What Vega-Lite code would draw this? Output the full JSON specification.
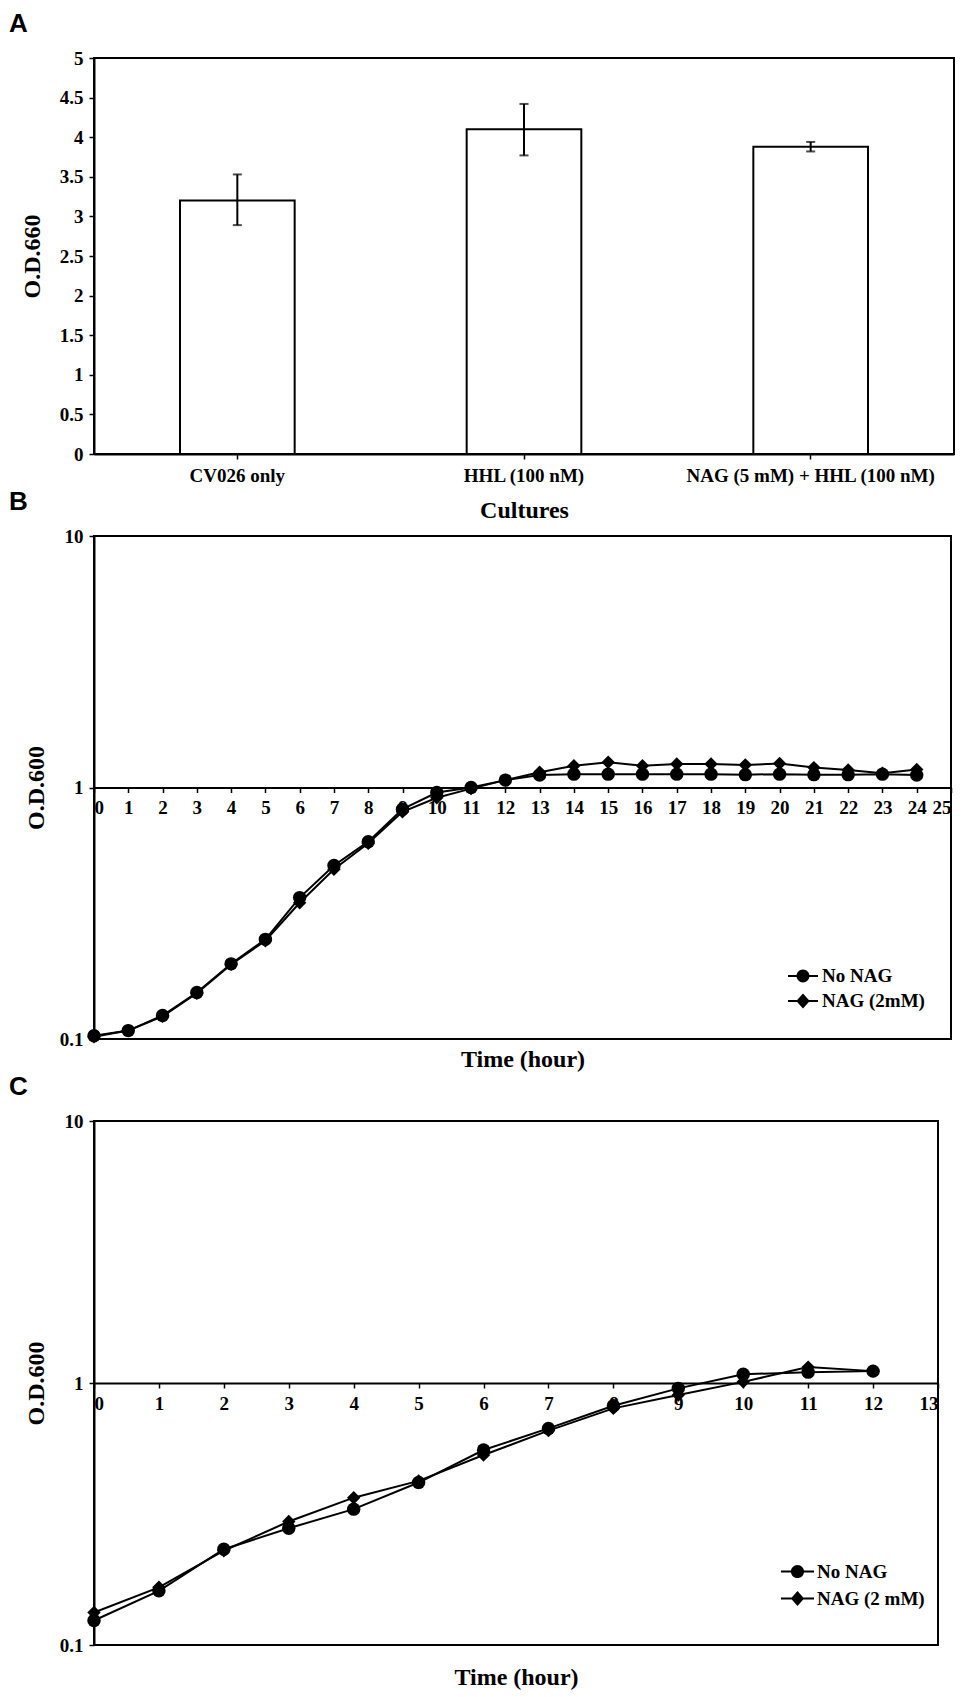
{
  "$schema": "https://vega.github.io/schema/vega-lite/v6.json",
  "padding": {"left": 8, "top": 10, "right": 5, "bottom": 0},
  "background": "white",
  "bounds": "flush",
  "spacing": 82,
  "datasets": {
    "bars": [
      {"culture": "CV026 only", "od": 3.2, "lo": 2.89, "hi": 3.53},
      {"culture": "HHL (100 nM)", "od": 4.1, "lo": 3.77, "hi": 4.42},
      {"culture": "NAG (5 mM) + HHL (100 nM)", "od": 3.88, "lo": 3.82, "hi": 3.94}
    ],
    "growthB": [
      {"t": 0, "series": "No NAG", "od": 0.103}, {"t": 0, "series": "NAG (2mM)", "od": 0.102},
      {"t": 1, "series": "No NAG", "od": 0.108}, {"t": 1, "series": "NAG (2mM)", "od": 0.108},
      {"t": 2, "series": "No NAG", "od": 0.124}, {"t": 2, "series": "NAG (2mM)", "od": 0.123},
      {"t": 3, "series": "No NAG", "od": 0.153}, {"t": 3, "series": "NAG (2mM)", "od": 0.152},
      {"t": 4, "series": "No NAG", "od": 0.199}, {"t": 4, "series": "NAG (2mM)", "od": 0.198},
      {"t": 5, "series": "No NAG", "od": 0.249}, {"t": 5, "series": "NAG (2mM)", "od": 0.246},
      {"t": 6, "series": "No NAG", "od": 0.365}, {"t": 6, "series": "NAG (2mM)", "od": 0.348},
      {"t": 7, "series": "No NAG", "od": 0.49}, {"t": 7, "series": "NAG (2mM)", "od": 0.473},
      {"t": 8, "series": "No NAG", "od": 0.609}, {"t": 8, "series": "NAG (2mM)", "od": 0.6},
      {"t": 9, "series": "No NAG", "od": 0.82}, {"t": 9, "series": "NAG (2mM)", "od": 0.8},
      {"t": 10, "series": "No NAG", "od": 0.955}, {"t": 10, "series": "NAG (2mM)", "od": 0.91},
      {"t": 11, "series": "No NAG", "od": 1.0}, {"t": 11, "series": "NAG (2mM)", "od": 0.99},
      {"t": 12, "series": "No NAG", "od": 1.07}, {"t": 12, "series": "NAG (2mM)", "od": 1.07},
      {"t": 13, "series": "No NAG", "od": 1.12}, {"t": 13, "series": "NAG (2mM)", "od": 1.15},
      {"t": 14, "series": "No NAG", "od": 1.13}, {"t": 14, "series": "NAG (2mM)", "od": 1.22},
      {"t": 15, "series": "No NAG", "od": 1.13}, {"t": 15, "series": "NAG (2mM)", "od": 1.26},
      {"t": 16, "series": "No NAG", "od": 1.13}, {"t": 16, "series": "NAG (2mM)", "od": 1.22},
      {"t": 17, "series": "No NAG", "od": 1.13}, {"t": 17, "series": "NAG (2mM)", "od": 1.24},
      {"t": 18, "series": "No NAG", "od": 1.13}, {"t": 18, "series": "NAG (2mM)", "od": 1.24},
      {"t": 19, "series": "No NAG", "od": 1.125}, {"t": 19, "series": "NAG (2mM)", "od": 1.23},
      {"t": 20, "series": "No NAG", "od": 1.13}, {"t": 20, "series": "NAG (2mM)", "od": 1.245},
      {"t": 21, "series": "No NAG", "od": 1.125}, {"t": 21, "series": "NAG (2mM)", "od": 1.2},
      {"t": 22, "series": "No NAG", "od": 1.125}, {"t": 22, "series": "NAG (2mM)", "od": 1.175},
      {"t": 23, "series": "No NAG", "od": 1.13}, {"t": 23, "series": "NAG (2mM)", "od": 1.14},
      {"t": 24, "series": "No NAG", "od": 1.12}, {"t": 24, "series": "NAG (2mM)", "od": 1.18}
    ],
    "growthC": [
      {"t": 0, "series": "No NAG", "od": 0.124}, {"t": 0, "series": "NAG (2 mM)", "od": 0.133},
      {"t": 1, "series": "No NAG", "od": 0.161}, {"t": 1, "series": "NAG (2 mM)", "od": 0.166},
      {"t": 2, "series": "No NAG", "od": 0.232}, {"t": 2, "series": "NAG (2 mM)", "od": 0.229},
      {"t": 3, "series": "No NAG", "od": 0.279}, {"t": 3, "series": "NAG (2 mM)", "od": 0.296},
      {"t": 4, "series": "No NAG", "od": 0.33}, {"t": 4, "series": "NAG (2 mM)", "od": 0.365},
      {"t": 5, "series": "No NAG", "od": 0.417}, {"t": 5, "series": "NAG (2 mM)", "od": 0.423},
      {"t": 6, "series": "No NAG", "od": 0.555}, {"t": 6, "series": "NAG (2 mM)", "od": 0.531},
      {"t": 7, "series": "No NAG", "od": 0.671}, {"t": 7, "series": "NAG (2 mM)", "od": 0.658},
      {"t": 8, "series": "No NAG", "od": 0.819}, {"t": 8, "series": "NAG (2 mM)", "od": 0.8},
      {"t": 9, "series": "No NAG", "od": 0.954}, {"t": 9, "series": "NAG (2 mM)", "od": 0.9},
      {"t": 10, "series": "No NAG", "od": 1.08}, {"t": 10, "series": "NAG (2 mM)", "od": 1.01},
      {"t": 11, "series": "No NAG", "od": 1.1}, {"t": 11, "series": "NAG (2 mM)", "od": 1.15},
      {"t": 12, "series": "No NAG", "od": 1.11}, {"t": 12, "series": "NAG (2 mM)", "od": 1.11}
    ]
  },
  "vconcat": [
    {
      "title": {"text": "A"},
      "width": 860,
      "height": 396,
      "data": {"name": "bars"},
      "encoding": {
        "x": {
          "field": "culture", "type": "nominal", "sort": null,
          "scale": {"paddingInner": 0.6, "paddingOuter": 0.3},
          "axis": {"title": "Cultures", "labelAngle": 0, "labelPadding": 7, "labelLimit": 0, "titleY": 56, "titleBaseline": "middle"}
        }
      },
      "layer": [
        {
          "mark": {"type": "bar", "fill": "white", "stroke": "black", "strokeWidth": 2},
          "encoding": {
            "y": {
              "field": "od", "type": "quantitative",
              "scale": {"domain": [0, 5], "nice": false},
              "axis": {"title": "O.D.660", "values": [0, 0.5, 1, 1.5, 2, 2.5, 3, 3.5, 4, 4.5, 5], "format": "~g", "labelPadding": 6, "titleX": -62, "titleBaseline": "middle"}
            }
          }
        },
        {
          "mark": {"type": "rule", "color": "black", "strokeWidth": 2},
          "encoding": {
            "y": {"field": "lo", "type": "quantitative", "axis": {"title": "O.D.660", "values": [0, 0.5, 1, 1.5, 2, 2.5, 3, 3.5, 4, 4.5, 5], "format": "~g", "labelPadding": 6, "titleX": -62, "titleBaseline": "middle"}},
            "y2": {"field": "hi"}
          }
        },
        {
          "mark": {"type": "tick", "color": "black", "size": 9, "thickness": 2},
          "encoding": {"y": {"field": "lo", "type": "quantitative", "axis": {"title": "O.D.660", "values": [0, 0.5, 1, 1.5, 2, 2.5, 3, 3.5, 4, 4.5, 5], "format": "~g", "labelPadding": 6, "titleX": -62, "titleBaseline": "middle"}}}
        },
        {
          "mark": {"type": "tick", "color": "black", "size": 9, "thickness": 2},
          "encoding": {"y": {"field": "hi", "type": "quantitative", "axis": {"title": "O.D.660", "values": [0, 0.5, 1, 1.5, 2, 2.5, 3, 3.5, 4, 4.5, 5], "format": "~g", "labelPadding": 6, "titleX": -62, "titleBaseline": "middle"}}}
        }
      ]
    },
    {
      "title": {"text": "B"},
      "width": 857,
      "height": 503,
      "data": {"name": "growthB"},
      "encoding": {
        "x": {
          "field": "t", "type": "quantitative",
          "scale": {"domain": [0, 25], "nice": false},
          "axis": {"title": "Time (hour)", "values": [0,1,2,3,4,5,6,7,8,9,10,11,12,13,14,15,16,17,18,19,20,21,22,23,24,25], "offset": -251.5, "labelPadding": 6, "titleY": 272, "titleBaseline": "middle"}
        },
        "y": {
          "field": "od", "type": "quantitative",
          "scale": {"type": "log", "domain": [0.1, 10], "nice": false},
          "axis": {"title": "O.D.600", "values": [0.1, 1, 10], "format": "~g", "labelPadding": 6, "titleX": -58, "titleBaseline": "middle"}
        }
      },
      "layer": [
        {
          "mark": {"type": "line", "color": "black", "strokeWidth": 2},
          "encoding": {"detail": {"field": "series", "type": "nominal"}}
        },
        {
          "mark": {"type": "point", "filled": true, "color": "black", "opacity": 1, "size": 180},
          "encoding": {
            "shape": {
              "field": "series", "type": "nominal",
              "scale": {"domain": ["No NAG", "NAG (2mM)"], "range": ["circle", "diamond"]},
              "legend": null
            }
          }
        },
        {
          "mark": {"type": "point", "filled": true, "color": "black", "opacity": 0, "size": 0},
          "encoding": {
            "shape": {
              "field": "series", "type": "nominal",
              "scale": {"domain": ["No NAG", "NAG (2mM)"], "range": ["M-1,-0.07H1V0.07H-1Z M-0.43,0A0.43,0.43,0,1,1,0.43,0A0.43,0.43,0,1,1,-0.43,0Z", "M-1,-0.07H1V0.07H-1Z M0,-0.5L0.45,0L0,0.5L-0.45,0Z"]},
              "legend": {
                "orient": "none", "legendX": 694, "legendY": 425, "title": null,
                "symbolSize": 900, "symbolOpacity": 1, "symbolFillColor": "black", "symbolStrokeWidth": 0, "symbolStrokeColor": "black",
                "labelFontSize": 19, "labelFont": "Liberation Serif", "labelFontWeight": "bold", "labelColor": "black",
                "labelOffset": 4, "rowPadding": 0, "padding": 0
              }
            }
          }
        }
      ],
      "resolve": {"scale": {"shape": "independent"}}
    },
    {
      "title": {"text": "C"},
      "width": 844,
      "height": 524,
      "data": {"name": "growthC"},
      "encoding": {
        "x": {
          "field": "t", "type": "quantitative",
          "scale": {"domain": [0, 13], "nice": false},
          "axis": {"title": "Time (hour)", "values": [0,1,2,3,4,5,6,7,8,9,10,11,12,13], "offset": -262, "labelPadding": 6, "titleY": 294, "titleBaseline": "middle"}
        },
        "y": {
          "field": "od", "type": "quantitative",
          "scale": {"type": "log", "domain": [0.1, 10], "nice": false},
          "axis": {"title": "O.D.600", "values": [0.1, 1, 10], "format": "~g", "labelPadding": 6, "titleX": -58, "titleBaseline": "middle"}
        }
      },
      "layer": [
        {
          "mark": {"type": "line", "color": "black", "strokeWidth": 2},
          "encoding": {"detail": {"field": "series", "type": "nominal"}}
        },
        {
          "mark": {"type": "point", "filled": true, "color": "black", "opacity": 1, "size": 180},
          "encoding": {
            "shape": {
              "field": "series", "type": "nominal",
              "scale": {"domain": ["No NAG", "NAG (2 mM)"], "range": ["circle", "diamond"]},
              "legend": null
            }
          }
        },
        {
          "mark": {"type": "point", "filled": true, "color": "black", "opacity": 0, "size": 0},
          "encoding": {
            "shape": {
              "field": "series", "type": "nominal",
              "scale": {"domain": ["No NAG", "NAG (2 mM)"], "range": ["M-1,-0.065H1V0.065H-1Z M-0.4,0A0.4,0.4,0,1,1,0.4,0A0.4,0.4,0,1,1,-0.4,0Z", "M-1,-0.065H1V0.065H-1Z M0,-0.45L0.4,0L0,0.45L-0.4,0Z"]},
              "legend": {
                "orient": "none", "legendX": 687, "legendY": 434, "title": null,
                "symbolSize": 1089, "symbolOpacity": 1, "symbolFillColor": "black", "symbolStrokeWidth": 0, "symbolStrokeColor": "black",
                "labelFontSize": 19, "labelFont": "Liberation Serif", "labelFontWeight": "bold", "labelColor": "black",
                "labelOffset": 3, "rowPadding": 0, "padding": 0
              }
            }
          }
        }
      ],
      "resolve": {"scale": {"shape": "independent"}}
    }
  ],
  "resolve": {"scale": {"shape": "independent", "x": "independent", "y": "independent"}, "legend": {"shape": "independent"}},
  "config": {
    "view": {"stroke": "black", "strokeWidth": 2},
    "font": "Liberation Serif",
    "axis": {
      "grid": false,
      "domainColor": "black", "domainWidth": 2,
      "tickColor": "black", "tickWidth": 1.5, "tickSize": 5,
      "labelFont": "Liberation Serif", "labelFontWeight": "bold", "labelFontSize": 19, "labelColor": "black",
      "titleFont": "Liberation Serif", "titleFontWeight": "bold", "titleFontSize": 24, "titleColor": "black"
    },
    "title": {
      "anchor": "start", "frame": "group", "font": "Liberation Sans", "fontSize": 26, "fontWeight": "bold", "color": "black",
      "dx": -85, "offset": 12
    }
  }
}
